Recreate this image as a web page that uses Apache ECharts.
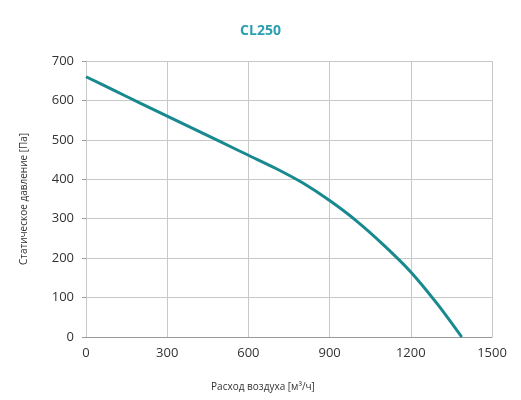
<!DOCTYPE html>
<html>
<head>
<meta charset="utf-8">
<script src="https://cdn.jsdelivr.net/npm/echarts@6/dist/echarts.min.js"></script>
<style>
  html, body { margin: 0; padding: 0; background: #fff; }
  #chart { width: 521px; height: 400px; }
</style>
</head>
<body>
<div id="chart"></div>
<script>
  // air flow [m3/h] vs static pressure [Pa]
  const flow = [0, 100, 200, 300, 400, 500, 600, 700, 800, 900, 1000, 1100, 1200, 1300, 1388];
  const pressure = [660, 627, 593, 560, 527, 494, 461, 428, 391, 346, 294, 233, 165, 82, 0];
  const xTicks = [0, 300, 600, 900, 1200, 1500];
  const yTicks = [0, 100, 200, 300, 400, 500, 600, 700];

  const points = flow.map((f, i) => [f, pressure[i]]);
  const font = 'Open Sans';

  var myChart = echarts.init(document.getElementById('chart'));
  var option = {
    animation: false,
    title: {
      text: 'CL250',
      left: 'center',
      top: 19,
      textStyle: { color: '#2a9fb0', fontSize: 14, fontWeight: 'bold', fontFamily: font }
    },
    grid: { left: 86, right: 29, top: 61, bottom: 63 },
    xAxis: {
      type: 'value',
      min: xTicks[0],
      max: xTicks[xTicks.length - 1],
      interval: 300,
      name: 'Расход воздуха [м³/ч]',
      nameLocation: 'middle',
      nameGap: 45,
      nameTextStyle: { fontSize: 10, color: '#333', fontFamily: font, padding: [0, 52, 0, 0] },
      axisLine: { lineStyle: { color: '#999' } },
      axisTick: { show: false },
      axisLabel: { color: '#333', fontSize: 13, margin: 10, fontFamily: font, formatter: v => String(v) },
      splitLine: { lineStyle: { color: '#c8c8c8' } }
    },
    yAxis: {
      type: 'value',
      min: yTicks[0],
      max: yTicks[yTicks.length - 1],
      interval: 100,
      name: 'Статическое давление [Па]',
      nameLocation: 'middle',
      nameGap: 57,
      nameTextStyle: { fontSize: 10, color: '#333', fontFamily: font },
      axisLine: { show: true, lineStyle: { color: '#c8c8c8' } },
      axisTick: { show: true, length: 4, lineStyle: { color: '#999' } },
      axisLabel: { color: '#333', fontSize: 13, margin: 12, fontFamily: font, formatter: v => String(v) },
      splitLine: { lineStyle: { color: '#c8c8c8' } }
    },
    series: [{
      type: 'line',
      data: points,
      smooth: 0.3,
      symbol: 'none',
      lineStyle: { color: '#17898f', width: 3 }
    }]
  };
  myChart.setOption(option);
</script>
</body>
</html>
